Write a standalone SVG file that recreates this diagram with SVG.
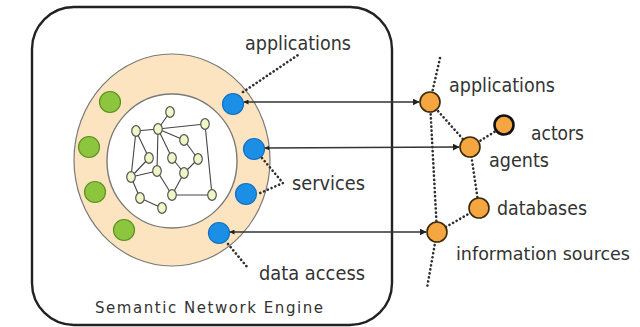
<svg xmlns="http://www.w3.org/2000/svg" width="640" height="327" viewBox="0 0 640 327">
  <style>
    .lbl { font-family: "DejaVu Sans", "Liberation Sans", sans-serif; font-size: 19px; fill: #333; }
    .cap { font-family: "DejaVu Sans", "Liberation Sans", sans-serif; font-size: 15px; fill: #333; }
    .dots { fill: none; stroke: #2e2e2e; stroke-width: 2.6; stroke-linecap: round; stroke-dasharray: 0.1 4; }
    .link { fill: none; stroke: #333; stroke-width: 1.3; }
    .edge { stroke: #444; stroke-width: 1.1; }
    .mini { fill: #f2f5c6; stroke: #555; stroke-width: 1.2; }
    .green { fill: #8cc63e; stroke: #5e8f22; stroke-width: 1.2; }
    .blue { fill: #1b8fe6; stroke: #1270c0; stroke-width: 1.2; }
    .orange { fill: #f6a640; stroke: #3b2a0a; stroke-width: 1.6; }
  </style>
  <defs>
    <marker id="arrowEnd" viewBox="0 0 10 10" refX="9" refY="5" markerWidth="7" markerHeight="7" markerUnits="userSpaceOnUse" orient="auto">
      <path d="M0,0 L10,5 L0,10 z" fill="#222"/>
    </marker>
    <marker id="arrowStart" viewBox="0 0 10 10" refX="1" refY="5" markerWidth="5" markerHeight="5" markerUnits="userSpaceOnUse" orient="auto">
      <path d="M10,0 L0,5 L10,10 z" fill="#222"/>
    </marker>
  </defs>

  <rect width="640" height="327" fill="#fff"/>

  <!-- engine frame -->
  <g id="engine">
    <rect x="32" y="7" width="360" height="318" rx="42" ry="42" fill="none" stroke="#222" stroke-width="2.4"/>
    <text class="cap" x="95" y="313" textLength="228" lengthAdjust="spacing">Semantic Network Engine</text>
  </g>

  <!-- ring with ports -->
  <g id="ring">
    <ellipse cx="172" cy="160" rx="98" ry="106" fill="#fde4c0" stroke="#7a7a7a" stroke-width="1.2"/>
    <ellipse cx="172" cy="161" rx="65" ry="67" fill="#fff" stroke="#7a7a7a" stroke-width="1.4"/>
  </g>

  <g id="green-ports">
    <circle class="green" cx="110" cy="102" r="10.5"/>
    <circle class="green" cx="89" cy="147" r="10.5"/>
    <circle class="green" cx="95" cy="192" r="10.5"/>
    <circle class="green" cx="124" cy="230" r="10.5"/>
  </g>

  <g id="blue-ports">
    <circle class="blue" cx="233" cy="104" r="10.5"/>
    <circle class="blue" cx="254" cy="149" r="10.5"/>
    <circle class="blue" cx="246" cy="194" r="10.5"/>
    <circle class="blue" cx="219" cy="233" r="10.5"/>
  </g>

  <!-- semantic network core -->
  <g id="core">
    <g class="edge">
      <line x1="170" y1="112" x2="158" y2="129"/>
      <line x1="158" y1="129" x2="136" y2="131"/>
      <line x1="158" y1="129" x2="205" y2="124"/>
      <line x1="158" y1="129" x2="184" y2="140"/>
      <line x1="158" y1="129" x2="172" y2="158"/>
      <line x1="158" y1="129" x2="157" y2="171"/>
      <line x1="184" y1="140" x2="198" y2="159"/>
      <line x1="198" y1="159" x2="184" y2="173"/>
      <line x1="172" y1="158" x2="184" y2="173"/>
      <line x1="184" y1="173" x2="172" y2="195"/>
      <line x1="172" y1="195" x2="212" y2="195"/>
      <line x1="212" y1="195" x2="205" y2="124"/>
      <line x1="136" y1="131" x2="149" y2="158"/>
      <line x1="136" y1="131" x2="131" y2="177"/>
      <line x1="149" y1="158" x2="131" y2="177"/>
      <line x1="131" y1="177" x2="157" y2="171"/>
      <line x1="131" y1="177" x2="140" y2="198"/>
      <line x1="140" y1="198" x2="162" y2="208"/>
      <line x1="157" y1="171" x2="172" y2="195"/>
    </g>
    <g class="mini">
      <ellipse cx="170" cy="112" rx="4.3" ry="5.3"/>
      <ellipse cx="205" cy="124" rx="4.3" ry="5.3"/>
      <ellipse cx="136" cy="131" rx="4.3" ry="5.3"/>
      <ellipse cx="158" cy="129" rx="4.3" ry="5.3"/>
      <ellipse cx="184" cy="140" rx="4.3" ry="5.3"/>
      <ellipse cx="149" cy="158" rx="4.3" ry="5.3"/>
      <ellipse cx="172" cy="158" rx="4.3" ry="5.3"/>
      <ellipse cx="198" cy="159" rx="4.3" ry="5.3"/>
      <ellipse cx="131" cy="177" rx="4.3" ry="5.3"/>
      <ellipse cx="157" cy="171" rx="4.3" ry="5.3"/>
      <ellipse cx="184" cy="173" rx="4.3" ry="5.3"/>
      <ellipse cx="140" cy="198" rx="4.3" ry="5.3"/>
      <ellipse cx="172" cy="195" rx="4.3" ry="5.3"/>
      <ellipse cx="212" cy="195" rx="4.3" ry="5.3"/>
      <ellipse cx="162" cy="208" rx="4.3" ry="5.3"/>
    </g>
  </g>

  <!-- connectors -->
  <g id="connectors">
    <!-- port leaders -->
    <polyline class="dots" points="243,92 298,55"/>
    <polyline class="dots" points="262,158 283,183 258,194"/>
    <polyline class="dots" points="228,244 248,268"/>
    <!-- external dotted structure -->
    <polyline class="dots" points="440,58 430,102 437,232 427,288"/>
    <polyline class="dots" points="430,102 470,147 479,208 437,232"/>
    <polyline class="dots" points="470,147 504,126"/>
    <!-- links between ports and outside -->
    <line class="link" x1="244" y1="102" x2="419" y2="102" marker-start="url(#arrowStart)" marker-end="url(#arrowEnd)"/>
    <line class="link" x1="265" y1="148" x2="459" y2="147" marker-start="url(#arrowStart)" marker-end="url(#arrowEnd)"/>
    <line class="link" x1="230" y1="232" x2="426" y2="232" marker-start="url(#arrowStart)" marker-end="url(#arrowEnd)"/>
  </g>

  <!-- outside entities -->
  <g id="applications-node">
    <circle class="orange" cx="430" cy="102" r="10"/>
  </g>
  <g id="agents-node">
    <circle class="orange" cx="470" cy="147" r="10"/>
  </g>
  <g id="actors-node">
    <circle cx="504" cy="125" r="9.5" fill="#f6a640" stroke="#111" stroke-width="2.6"/>
  </g>
  <g id="databases-node">
    <circle class="orange" cx="479" cy="208" r="10"/>
  </g>
  <g id="information-sources-node">
    <circle class="orange" cx="437" cy="232" r="10"/>
  </g>

  <!-- labels -->
  <g id="labels">
    <text class="lbl" x="245" y="50" textLength="106" lengthAdjust="spacingAndGlyphs">applications</text>
    <text class="lbl" x="292" y="190" textLength="73" lengthAdjust="spacingAndGlyphs">services</text>
    <text class="lbl" x="259" y="280" textLength="106" lengthAdjust="spacingAndGlyphs">data access</text>
    <text class="lbl" x="449" y="92" textLength="106" lengthAdjust="spacingAndGlyphs">applications</text>
    <text class="lbl" x="531" y="140" textLength="53" lengthAdjust="spacingAndGlyphs">actors</text>
    <text class="lbl" x="489" y="167" textLength="60" lengthAdjust="spacingAndGlyphs">agents</text>
    <text class="lbl" x="497" y="215" textLength="90" lengthAdjust="spacingAndGlyphs">databases</text>
    <text class="lbl" x="456" y="260" style="font-size:18px" textLength="174" lengthAdjust="spacingAndGlyphs">information sources</text>
  </g>
</svg>
